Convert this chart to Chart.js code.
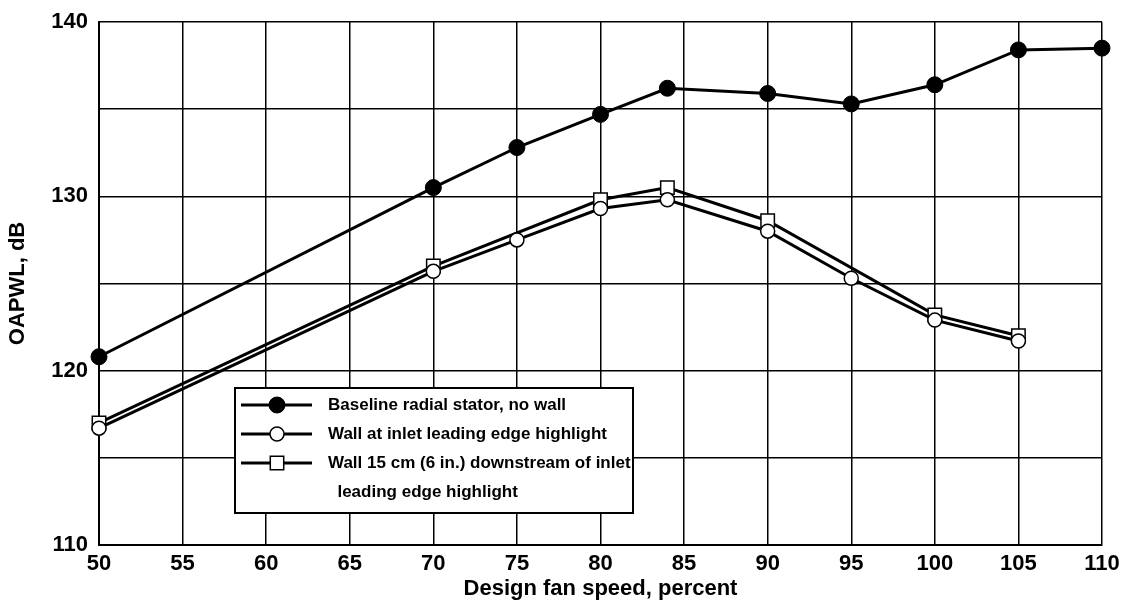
<!DOCTYPE html>
<html>
<head>
<meta charset="utf-8">
<script src="https://cdn.jsdelivr.net/npm/chart.js@4/dist/chart.umd.min.js"></script>
<style>
  body { margin: 0; background: #fff; }
  canvas { display: block; }
</style>
</head>
<body>
<canvas id="noiseChart" width="1126" height="611"></canvas>
<script>
// fan speed, percent of design
const baselineSpeeds = [50, 70, 75, 80, 84, 90, 95, 100, 105, 110];
const inletSpeeds = [50, 70, 75, 80, 84, 90, 95, 100, 105];
const downstreamSpeeds = [50, 70, 80, 84, 90, 100, 105];

// OAPWL, dB
const baselineLevels = [120.8, 130.5, 132.8, 134.7, 136.2, 135.9, 135.3, 136.4, 138.4, 138.5];
const inletLevels = [116.7, 125.7, 127.5, 129.3, 129.8, 128.0, 125.3, 122.9, 121.7];
const downstreamLevels = [117.0, 126.0, 129.8, 130.5, 128.6, 123.2, 122.0];

const xTicks = [50, 55, 60, 65, 70, 75, 80, 85, 90, 95, 100, 105, 110];
const yLabelTicks = [110, 120, 130, 140];

const legendLines = [
  ['Baseline radial stator, no wall'],
  ['Wall at inlet leading edge highlight'],
  ['Wall 15 cm (6 in.) downstream of inlet', '  leading edge highlight']
];

const FONT = '"Liberation Sans", Arial, Helvetica, sans-serif';

function toPoints(xs, ys) {
  return xs.map((x, i) => ({ x: x, y: ys[i] }));
}

// draws one marker the same way the chart does
function drawMarker(ctx, ds, cx, cy) {
  const r = ds.pointRadius;
  ctx.save();
  ctx.lineWidth = ds.pointBorderWidth;
  ctx.strokeStyle = ds.pointBorderColor;
  ctx.fillStyle = ds.pointBackgroundColor;
  ctx.beginPath();
  if (ds.pointStyle === 'rect') {
    const s = Math.SQRT1_2 * r;
    ctx.rect(cx - s, cy - s, 2 * s, 2 * s);
  } else {
    ctx.arc(cx, cy, r, 0, Math.PI * 2);
  }
  ctx.fill();
  ctx.stroke();
  ctx.restore();
}

// boxed legend sitting inside the plot, lower left
const boxLegend = {
  id: 'boxLegend',
  afterDraw(chart) {
    const ctx = chart.ctx;
    const left = 235, top = 388, width = 398, height = 125;
    const rowH = 29;
    ctx.save();
    ctx.fillStyle = '#fff';
    ctx.fillRect(left, top, width, height);
    ctx.lineWidth = 2;
    ctx.strokeStyle = '#000';
    ctx.strokeRect(left, top, width, height);

    ctx.font = 'bold 17px ' + FONT;
    ctx.textBaseline = 'middle';
    let row = 0;
    chart.data.datasets.forEach((ds, i) => {
      const cy = top + 17 + row * rowH;
      ctx.beginPath();
      ctx.lineWidth = 3;
      ctx.strokeStyle = '#000';
      ctx.moveTo(left + 6, cy);
      ctx.lineTo(left + 77, cy);
      ctx.stroke();
      drawMarker(ctx, ds, left + 42, cy);
      ctx.fillStyle = '#000';
      legendLines[i].forEach((txt, k) => {
        ctx.fillText(txt, left + 93, cy + k * rowH);
      });
      row += legendLines[i].length;
    });
    ctx.restore();
  }
};

const ctx = document.getElementById('noiseChart').getContext('2d');
new Chart(ctx, {
  type: 'line',
  data: {
    datasets: [
      {
        label: 'Baseline radial stator, no wall',
        data: toPoints(baselineSpeeds, baselineLevels),
        borderColor: '#000',
        borderWidth: 3,
        pointStyle: 'circle',
        pointRadius: 8,
        pointBackgroundColor: '#000',
        pointBorderColor: '#000',
        pointBorderWidth: 1,
        tension: 0,
        clip: false
      },
      {
        label: 'Wall at inlet leading edge highlight',
        data: toPoints(inletSpeeds, inletLevels),
        borderColor: '#000',
        borderWidth: 3,
        pointStyle: 'circle',
        pointRadius: 7,
        pointBackgroundColor: '#fff',
        pointBorderColor: '#000',
        pointBorderWidth: 1.5,
        tension: 0,
        clip: false
      },
      {
        label: 'Wall 15 cm (6 in.) downstream of inlet leading edge highlight',
        data: toPoints(downstreamSpeeds, downstreamLevels),
        borderColor: '#000',
        borderWidth: 3,
        pointStyle: 'rect',
        pointRadius: 9.5,
        pointBackgroundColor: '#fff',
        pointBorderColor: '#000',
        pointBorderWidth: 1.5,
        tension: 0,
        clip: false
      }
    ]
  },
  options: {
    responsive: false,
    animation: false,
    layout: { padding: { left: 0, right: 24, top: 20, bottom: 0 } },
    plugins: {
      legend: { display: false },
      tooltip: { enabled: false }
    },
    scales: {
      x: {
        type: 'linear',
        min: xTicks[0],
        max: xTicks[xTicks.length - 1],
        afterBuildTicks: (scale) => { scale.ticks = xTicks.map(v => ({ value: v })); },
        afterFit: (scale) => { scale.height = 66; },
        grid: { color: '#000', lineWidth: 1.5, drawTicks: false },
        border: { color: '#000', width: 2 },
        ticks: {
          color: '#000',
          padding: 6,
          font: { family: FONT, size: 22, weight: 'bold' }
        },
        title: {
          display: true,
          text: 'Design fan speed, percent',
          color: '#000',
          padding: { top: 0, bottom: 9 },
          font: { family: FONT, size: 22, weight: 'bold' }
        }
      },
      y: {
        min: 110,
        max: 140,
        afterFit: (scale) => { scale.width = 99; },
        grid: { color: '#000', lineWidth: 1.5, drawTicks: false },
        border: { color: '#000', width: 2 },
        ticks: {
          stepSize: 5,
          color: '#000',
          padding: 11,
          font: { family: FONT, size: 22, weight: 'bold', lineHeight: 1 },
          callback: (v) => yLabelTicks.includes(v) ? v : ''
        },
        title: {
          display: true,
          text: 'OAPWL, dB',
          color: '#000',
          padding: { top: 5, bottom: 0 },
          font: { family: FONT, size: 22, weight: 'bold' }
        }
      }
    }
  },
  plugins: [boxLegend]
});
</script>
</body>
</html>
